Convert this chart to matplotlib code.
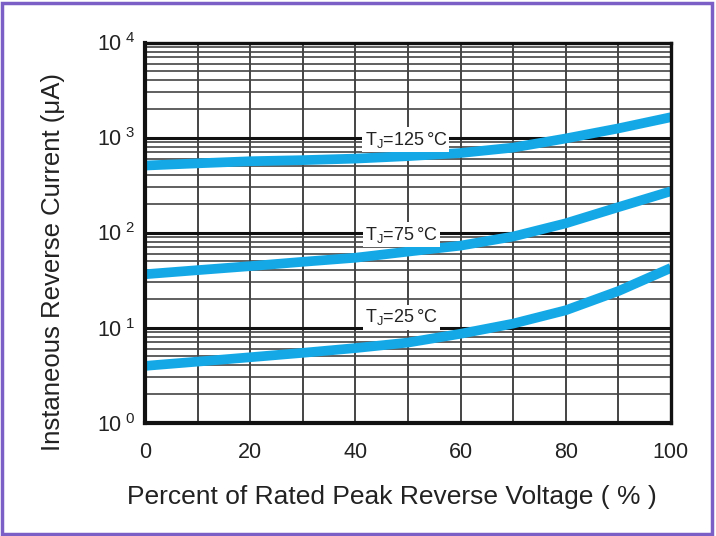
import numpy as np
import matplotlib
matplotlib.use("Agg")
from matplotlib import pyplot as plt
from matplotlib.patches import Rectangle
from matplotlib.ticker import FixedLocator, FixedFormatter, NullFormatter

plt.rcParams['font.family'] = ['Liberation Sans', 'DejaVu Sans']
plt.rcParams['mathtext.fontset'] = 'custom'
plt.rcParams['mathtext.rm'] = 'Liberation Sans'
plt.rcParams['mathtext.it'] = 'Liberation Sans'

# DATA
voltage_pct = [0, 10, 20, 30, 40, 50, 60, 70, 80, 90, 100]
ir_125 = [507, 535, 563, 578, 600, 637, 687, 783, 977, 1247, 1636]
ir_75 = [36.4, 40.2, 44.3, 49.2, 54.3, 63, 72.8, 90.8, 125, 185, 272]
ir_25 = [3.95, 4.38, 4.87, 5.42, 6.08, 6.95, 8.6, 11.0, 15.2, 24.2, 42.4]
curve_labels = ["T$_J$=125$\\,$°C", "T$_J$=75$\\,$°C", "T$_J$=25$\\,$°C"]
label_pos = [(49.6, 950), (48.8, 95), (48.8, 12.8)]
x_ticks = [0, 20, 40, 60, 80, 100]
y_ticks = [1, 10, 100, 1000, 10000]
y_ticklabels = ["10$^{\\ 0}$", "10$^{\\ 1}$", "10$^{\\ 2}$", "10$^{\\ 3}$", "10$^{\\ 4}$"]

blue = "#14A9E6"

fig = plt.figure(figsize=(7.16, 5.36), dpi=100)
ax = fig.add_axes([0.2025, 0.2116, 0.7345, 0.7091])

ax.set_yscale('log')
ax.set_xlim(0, 100)
ax.set_ylim(1, 10000)

# grid: gray verticals every 10, decades black, minor gray
for xv in range(10, 100, 10):
    ax.axvline(xv, color='#444444', lw=1.4, zorder=1)
for dec in [1, 10, 100, 1000]:
    for m in range(2, 10):
        ax.axhline(dec * m, color='#444444', lw=1.2, zorder=1)
for dec in [10, 100, 1000]:
    ax.axhline(dec, color='#111111', lw=2.2, zorder=1)

for ys in [ir_125, ir_75, ir_25]:
    ax.plot(voltage_pct, ys, color=blue, lw=7, solid_capstyle='butt', zorder=3)

for txt, (lx, ly) in zip(curve_labels, label_pos):
    ax.text(lx, ly, txt, fontsize=13, ha='center', va='center', color='#222222', zorder=4,
            bbox=dict(facecolor='white', edgecolor='none', pad=1.5))

ax.xaxis.set_major_locator(FixedLocator(x_ticks))
ax.yaxis.set_major_locator(FixedLocator(y_ticks))
ax.yaxis.set_major_formatter(FixedFormatter(y_ticklabels))
ax.yaxis.set_minor_formatter(NullFormatter())
ax.tick_params(axis='both', which='both', length=0, labelsize=15.5, colors='#222222')
ax.tick_params(axis='x', pad=14)
ax.tick_params(axis='y', pad=7)

for s in ax.spines.values():
    s.set_color('#111111')
    s.set_linewidth(2.4)
    s.set_zorder(5)
ax.spines['left'].set_linewidth(3)
ax.spines['bottom'].set_linewidth(3)

ax.set_xlabel("Percent of Rated Peak Reverse Voltage ( % )", fontsize=19, color='#222222')
ax.set_ylabel("Instaneous Reverse Current (μA)", fontsize=18.5, color='#222222')
ax.xaxis.set_label_coords(0.47, -0.165)
ax.yaxis.set_label_coords(-0.152, 0.423)

# purple frame around the figure
fig.patches.append(Rectangle((0.003, 0.004), 0.991, 0.991, transform=fig.transFigure,
                             fill=False, edgecolor='#7B5EC6', lw=2.5))

fig.savefig("out.png", dpi=100)
